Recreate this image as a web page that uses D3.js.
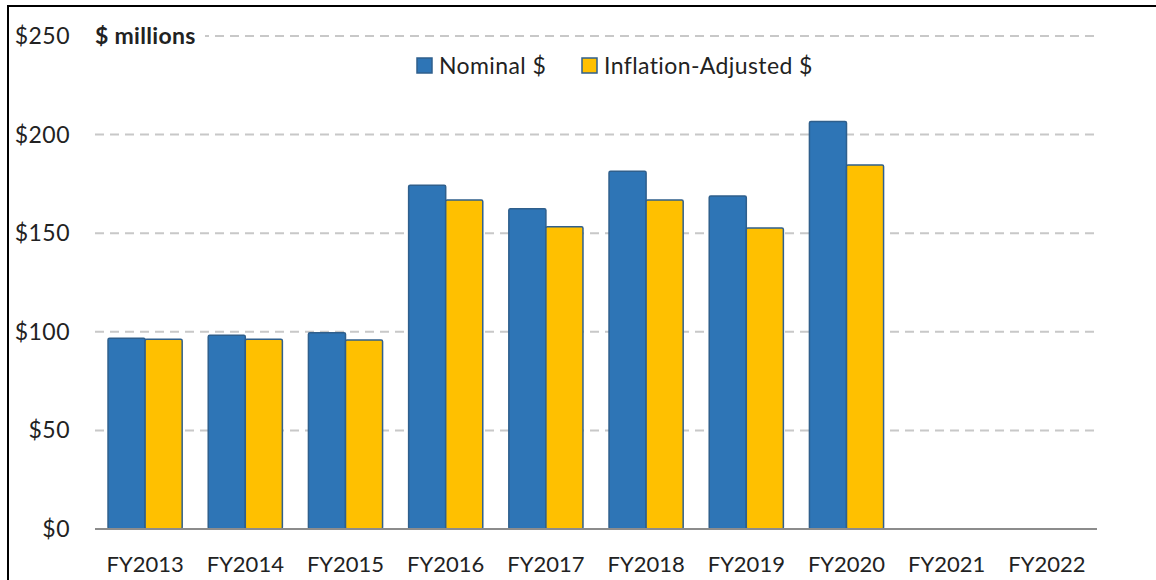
<!DOCTYPE html>
<html>
<head>
<meta charset="utf-8">
<script src="https://cdn.jsdelivr.net/npm/d3@7"></script>
<style>
  html, body { margin: 0; padding: 0; background: #fff; }
  svg text { font-family: Lato, "Open Sans", sans-serif; fill: #222; }
</style>
</head>
<body>
<svg id="chart" width="1156" height="580"></svg>
<script>
const years = ["FY2013", "FY2014", "FY2015", "FY2016", "FY2017", "FY2018", "FY2019", "FY2020", "FY2021", "FY2022"];
const nominal = [96.7, 98.2, 99.5, 174.3, 162.4, 181.4, 168.9, 206.7, null, null];
const adjusted = [96.2, 96.2, 95.8, 166.8, 153.3, 166.8, 152.6, 184.6, null, null];
const yTicks = [0, 50, 100, 150, 200, 250];
const seriesNames = ["Nominal $", "Inflation-Adjusted $"];
const seriesColors = ["#2E75B6", "#FFC000"];

const svg = d3.select("#chart");

const margin = { top: 36, right: 59, bottom: 51, left: 95 };
const width = 1156;
const height = 580;

// frame (right and bottom edges fall outside the picture)
svg.append("rect")
  .attr("x", 8).attr("y", 6)
  .attr("width", 1160).attr("height", 600)
  .attr("fill", "none")
  .attr("stroke", "#000")
  .attr("stroke-width", 2);

const x = d3.scaleBand()
  .domain(years)
  .range([margin.left, width - margin.right])
  .paddingInner(0.26)
  .paddingOuter(0.13);

const xSub = d3.scaleBand()
  .domain([0, 1])
  .range([0, x.bandwidth()]);

const y = d3.scaleLinear()
  .domain([0, 250])
  .range([height - margin.bottom, margin.top]);

// gridlines
svg.append("g")
  .selectAll("line")
  .data(yTicks.filter(d => d > 0))
  .join("line")
  .attr("x1", margin.left)
  .attr("x2", width - margin.right)
  .attr("y1", d => y(d))
  .attr("y2", d => y(d))
  .attr("stroke", "#c8c8c8")
  .attr("stroke-width", 2)
  .attr("stroke-dasharray", "9,6");

// y labels
svg.append("g")
  .selectAll("text")
  .data(yTicks)
  .join("text")
  .attr("x", 70)
  .attr("y", d => y(d))
  .attr("dy", "0.35em")
  .attr("text-anchor", "end")
  .style("font-size", "23px")
  .style("letter-spacing", "0.5px")
  .text(d => "$" + d);

// unit label with white box over the top gridline
svg.append("rect")
  .attr("x", margin.left - 2).attr("y", y(250) - 14)
  .attr("width", 112).attr("height", 28)
  .attr("fill", "#fff");
svg.append("text")
  .attr("x", margin.left)
  .attr("y", y(250))
  .attr("dy", "0.35em")
  .style("font-size", "23px")
  .style("font-weight", "700")
  .style("letter-spacing", "0.3px")
  .text("$ millions");

// bars
const series = [nominal, adjusted];
series.forEach((values, s) => {
  svg.append("g")
    .selectAll("rect")
    .data(years.map((yr, i) => ({ yr, v: values[i] })).filter(d => d.v != null))
    .join("rect")
    .attr("x", d => x(d.yr) + xSub(s))
    .attr("y", d => y(d.v))
    .attr("width", xSub.bandwidth())
    .attr("height", d => y(0) - y(d.v))
    .attr("rx", 1.5)
    .attr("fill", seriesColors[s])
    .attr("stroke", "#2F5F8C")
    .attr("stroke-width", 1.5);
});

// x axis line
svg.append("line")
  .attr("x1", margin.left)
  .attr("x2", width - margin.right)
  .attr("y1", y(0))
  .attr("y2", y(0))
  .attr("stroke", "#8c8c8c")
  .attr("stroke-width", 2);

// x labels
svg.append("g")
  .selectAll("text")
  .data(years)
  .join("text")
  .attr("x", d => x(d) + x.bandwidth() / 2)
  .attr("y", 572)
  .attr("text-anchor", "middle")
  .style("font-size", "22px")
  .text(d => d);

// legend
const legendX = [417, 582];
const legend = svg.append("g");
seriesNames.forEach((name, i) => {
  legend.append("rect")
    .attr("x", legendX[i]).attr("y", 58)
    .attr("width", 15).attr("height", 15)
    .attr("fill", seriesColors[i])
    .attr("stroke", "#2F5F8C")
    .attr("stroke-width", 1.5);
  legend.append("text")
    .attr("x", legendX[i] + 22)
    .attr("y", 66)
    .attr("dy", "0.35em")
    .style("font-size", "23px")
    .style("letter-spacing", "0.4px")
    .text(name);
});
</script>
</body>
</html>
